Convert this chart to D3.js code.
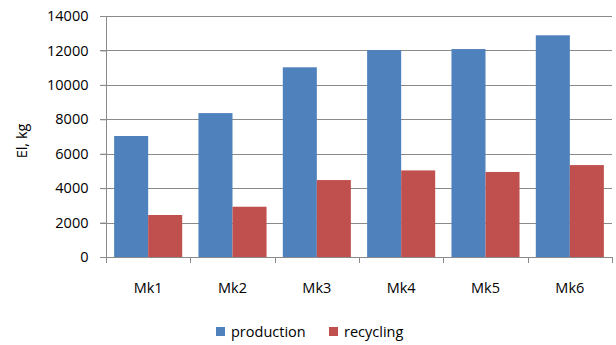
<!DOCTYPE html>
<html><head><meta charset="utf-8">
<script src="https://cdn.jsdelivr.net/npm/d3@7"></script>
<style>body{margin:0;background:#fff;}svg{display:block;font-family:"Open Sans", sans-serif;}</style>
</head><body>
<svg id="c" width="616" height="345"></svg>
<script>
const categories = ["Mk1","Mk2","Mk3","Mk4","Mk5","Mk6"];
const production = [7030, 8360, 11020, 12020, 12080, 12880];
const recycling = [2440, 2920, 4470, 5030, 4940, 5340];
const seriesNames = ["production","recycling"];
const colors = ["#4F81BD","#C0504D"];
const yTicks = [0,2000,4000,6000,8000,10000,12000,14000];

const svg = d3.select("#c");
const FF = "Open Sans";
const FS = 14.5;
const L = 106, R = 612, T = 16, B = 257;
const y = d3.scaleLinear().domain([0,14000]).range([B,T]);
const p = 0.193;
const x = d3.scaleBand().domain(categories).range([L,R]).paddingInner(p).paddingOuter(p/2);
const step = x.step();
const inner = d3.scaleBand().domain(seriesNames).range([0,x.bandwidth()]);

// gridlines
svg.append("g").selectAll("line").data(yTicks.filter(d=>d>0)).join("line")
  .attr("x1",L-6).attr("x2",R).attr("y1",d=>Math.round(y(d))+0.5).attr("y2",d=>Math.round(y(d))+0.5)
  .attr("stroke","#8a8a8a").attr("stroke-width",1);

// y axis
const yAxis = svg.append("g").attr("transform",`translate(${L+0.5},0)`)
  .call(d3.axisLeft(y).tickValues(yTicks).tickFormat(d3.format("d")).tickSize(6).tickPadding(12));
yAxis.select(".domain").attr("stroke","#8a8a8a").attr("d",`M0,${T}V${B}`);
yAxis.selectAll(".tick line").attr("stroke","#8a8a8a");
yAxis.selectAll(".tick text").attr("font-size",FS).attr("fill","#000").attr("font-family",FF);

// bars
const data = categories.map((c,i)=>({c, vals:[production[i],recycling[i]]}));
const g = svg.append("g").selectAll("g").data(data).join("g")
  .attr("transform",d=>`translate(${x(d.c)},0)`);
g.selectAll("rect").data(d=>d.vals.map((v,j)=>({v,s:seriesNames[j],j}))).join("rect")
  .attr("x",d=>inner(d.s)).attr("width",inner.bandwidth())
  .attr("y",d=>y(d.v)).attr("height",d=>y(0)-y(d.v))
  .attr("fill",d=>colors[d.j]);

// x axis
const xg = svg.append("g");
xg.append("line").attr("x1",L-6).attr("x2",R).attr("y1",B+0.5).attr("y2",B+0.5).attr("stroke","#8a8a8a");
const bounds = d3.range(categories.length+1).map(i=>L+i*step);
xg.selectAll("line.t").data(bounds).join("line").attr("class","t")
  .attr("x1",d=>Math.round(d)+0.5).attr("x2",d=>Math.round(d)+0.5).attr("y1",B).attr("y2",B+6).attr("stroke","#8a8a8a");
xg.selectAll("text").data(categories).join("text")
  .attr("x",d=>x(d)+x.bandwidth()/2).attr("y",293)
  .attr("text-anchor","middle").attr("font-size",FS).text(d=>d);

// y label
svg.append("text").attr("transform","translate(27,141) rotate(-90)")
  .attr("text-anchor","middle").attr("font-size",FS).text("El, kg");

// legend
const leg = svg.append("g");
const lx = [216, 329];
seriesNames.forEach((s,i)=>{
  leg.append("rect").attr("x",lx[i]).attr("y",327).attr("width",9).attr("height",9).attr("fill",colors[i]);
  leg.append("text").attr("x",lx[i]+15).attr("y",337).attr("font-size",FS).text(s);
});
</script>
</body></html>
